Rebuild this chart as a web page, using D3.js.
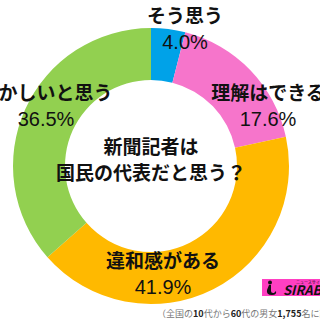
<!DOCTYPE html>
<html>
<head>
<meta charset="utf-8">
<script src="https://cdn.jsdelivr.net/npm/d3@7"></script>
<style>
  body { margin: 0; background: #fff; }
  svg { display: block; }
  text { font-family: "Noto Sans CJK JP", "Liberation Sans", sans-serif; fill: #111; }
  .pct { font-family: "Liberation Sans", "Noto Sans CJK JP", sans-serif; }
</style>
</head>
<body>
<div id="chart"></div>
<script>
// answers, clockwise from 12 o'clock
var categories = ["そう思う", "理解はできる", "違和感がある", "おかしいと思う"];
var values = [4.0, 17.6, 41.9, 36.5];
var colors = ["#00a2e8", "#f675cb", "#ffb900", "#92d050"];
var question = ["新聞記者は", "国民の代表だと思う？"];
var note = [["（全国の", false], ["10", true], ["代から", false], ["60", true], ["代の男女", false], ["1,755", true], ["名に調査）", false]];

var W = 320, H = 320;
var cx = 151, cy = 166, rOuter = 138, rInner = 86;

// where each label pair sits (name above, percent below)
var labelPos = [[185, 14], [268, 91], [163, 259], [46, 91]];

var svg = d3.select("#chart").append("svg")
	.attr("width", W)
	.attr("height", H);

var pie = d3.pie().sort(null).value(function(d){ return d; });
var arc = d3.arc().innerRadius(rInner).outerRadius(rOuter);

var g = svg.append("g").attr("transform", "translate(" + [cx, cy] + ")");
g.selectAll("path")
	.data(pie(values))
	.enter()
	.append("path")
	.attr("d", arc)
	.attr("fill", function(d, i){ return colors[i]; });

// centre question
svg.selectAll("text.q")
	.data(question)
	.enter()
	.append("text")
	.attr("class", "q")
	.attr("x", cx)
	.attr("y", function(d, i){ return 145 + i * 26; })
	.attr("text-anchor", "middle")
	.attr("dominant-baseline", "central")
	.attr("font-size", 19)
	.attr("font-weight", "bold")
	.text(function(d){ return d; });

var labels = svg.selectAll("g.lab")
	.data(categories)
	.enter()
	.append("g")
	.attr("class", "lab")
	.attr("transform", function(d, i){ return "translate(" + labelPos[i] + ")"; });

labels.append("text")
	.attr("text-anchor", "middle")
	.attr("dominant-baseline", "central")
	.attr("font-size", 19)
	.attr("font-weight", "bold")
	.text(function(d){ return d; });

labels.append("text")
	.attr("class", "pct")
	.attr("y", 28)
	.attr("text-anchor", "middle")
	.attr("dominant-baseline", "central")
	.attr("font-size", 20)
	.text(function(d, i){ return values[i].toFixed(1) + "%"; });

// logo
var logo = svg.append("g").attr("transform", "translate(262,279)");
logo.append("rect").attr("width", 60).attr("height", 17).attr("fill", "#ff3fc2");
logo.append("circle").attr("cx", 8).attr("cy", 3.5).attr("r", 2).attr("fill", "#111");
logo.append("path")
	.attr("d", "M7,6 L9,6 L9,12 Q9,14.5 12,14 L14,12 Q15,16 10,16 Q4,16 5,11 Z")
	.attr("fill", "#111");
logo.append("text")
	.attr("x", 21).attr("y", 15.5)
	.attr("font-family", "Liberation Sans, sans-serif")
	.attr("font-size", 13)
	.attr("font-weight", "bold")
	.attr("font-style", "italic")
	.text("SIRABEE");
logo.append("text")
	.attr("x", 34).attr("y", 4.5)
	.attr("font-size", 4)
	.text("ニュースサイト");

// footnote
var foot = svg.append("text")
	.attr("x", 157)
	.attr("y", 313)
	.attr("dominant-baseline", "central")
	.attr("font-size", 9);
foot.selectAll("tspan")
	.data(note)
	.enter()
	.append("tspan")
	.attr("fill", function(d){ return d[1] ? "#222" : "#777"; })
	.attr("font-weight", function(d){ return d[1] ? "bold" : "normal"; })
	.text(function(d){ return d[0]; });
</script>
</body>
</html>
